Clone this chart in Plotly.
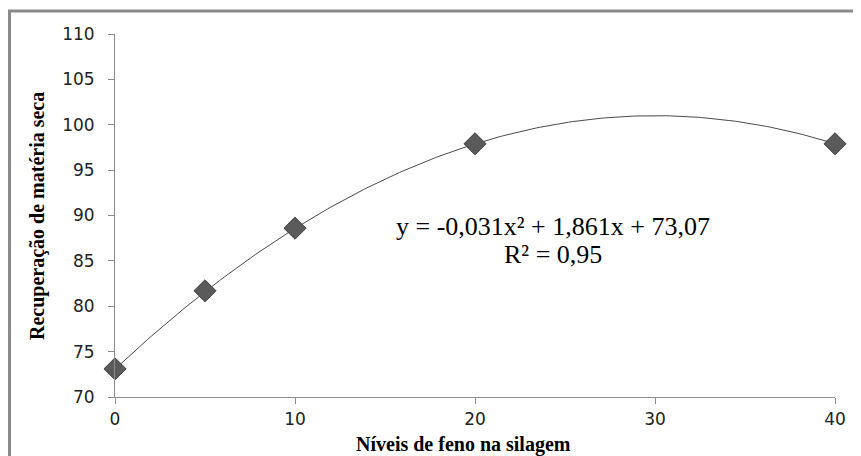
import numpy as np
import plotly.graph_objects as go

# Data
niveis = [0, 5, 10, 20, 40]
recuperacao = [73.1, 81.7, 88.6, 97.9, 97.9]
coef = [-0.031, 1.861, 73.07]  # quadratic trendline coefficients (a, b, c)
eq_line1 = "y = -0,031x² + 1,861x + 73,07"
eq_line2 = "R² = 0,95"
x_title = "Níveis de feno na silagem"
y_title = "Recuperação de matéria seca"
x_ticks = [0, 10, 20, 30, 40]
y_ticks = [70, 75, 80, 85, 90, 95, 100, 105, 110]

xs = np.linspace(0, 40, 201)
ys = np.polyval(coef, xs)

# page offset (browser body margin) = 8px
OFF = 8
PL, PR, PT, PB = 115, 835, 34, 397  # plot area in page pixels
PW, PH = PR - PL, PB - PT

def px(x):
    return (x - PL) / PW

def py(y):
    return (PB - y) / PH

fig = go.Figure()
fig.add_trace(go.Scatter(x=xs, y=ys, mode="lines",
                         line=dict(color="#4a4a4a", width=1), hoverinfo="skip",
                         showlegend=False))
fig.add_trace(go.Scatter(x=niveis, y=recuperacao, mode="markers",
                         marker=dict(symbol="diamond", size=17, color="#5a5a5a",
                                     line=dict(color="#404040", width=1)),
                         cliponaxis=False, showlegend=False))

eq_font = dict(family="Liberation Serif", size=26, color="#000000")
fig.add_annotation(xref="paper", yref="paper", x=px(553), y=py(227),
                   text=eq_line1, showarrow=False, font=eq_font)
fig.add_annotation(xref="paper", yref="paper", x=px(553), y=py(254),
                   text=eq_line2, showarrow=False, font=eq_font)

fig.add_annotation(xref="paper", yref="paper", x=px(463), y=py(444),
                   text="<b>" + x_title + "</b>", showarrow=False,
                   xanchor="center", yanchor="middle",
                   font=dict(family="Liberation Serif", size=20, color="#000000"))
fig.add_annotation(xref="paper", yref="paper", x=px(38), y=py(216),
                   text="<b>" + y_title + "</b>", showarrow=False, textangle=-90,
                   xanchor="center", yanchor="middle",
                   font=dict(family="Liberation Serif", size=20, color="#000000"))

fig.add_shape(type="rect", xref="paper", yref="paper",
              x0=px(9.5), x1=px(880), y0=py(480), y1=py(11),
              line=dict(color="#8a8a8a", width=3), fillcolor="rgba(0,0,0,0)",
              layer="below")

fig.update_layout(
    width=861 - OFF, height=456 - OFF,
    margin=dict(l=PL - OFF, r=861 - PR, t=PT - OFF, b=456 - PB, autoexpand=False),
    paper_bgcolor="white", plot_bgcolor="white",
    font=dict(family="DejaVu Sans", size=17, color="#222222"),
    xaxis=dict(range=[0, 40], tickvals=x_ticks, showgrid=False, zeroline=False,
               showline=True, linecolor="#8c8c8c", linewidth=1, automargin=False,
               ticks="outside", ticklen=6, tickcolor="#8c8c8c", ticklabelstandoff=1),
    yaxis=dict(range=[70, 110], tickvals=y_ticks, showgrid=False, zeroline=False,
               showline=True, linecolor="#8c8c8c", linewidth=1, automargin=False,
               ticks="outside", ticklen=6, tickcolor="#8c8c8c", ticklabelstandoff=10),
)

fig.write_html("out.html")
